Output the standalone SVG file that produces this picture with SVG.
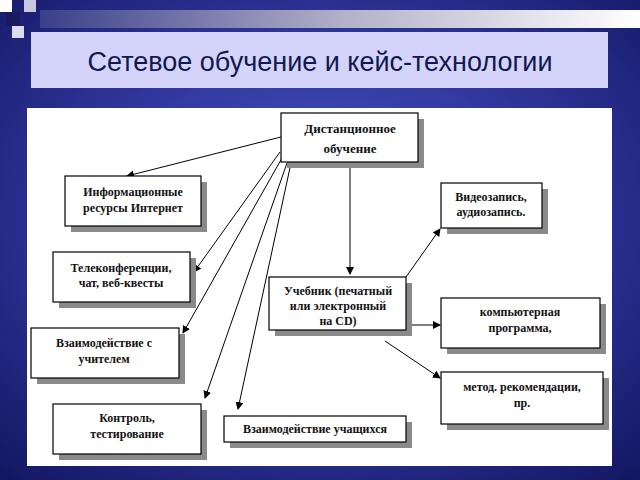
<svg xmlns="http://www.w3.org/2000/svg" width="640" height="480" viewBox="0 0 640 480">
<defs>
<radialGradient id="bg" cx="0.5" cy="0.45" r="0.75"><stop offset="0" stop-color="#4a55c8"/><stop offset="0.6" stop-color="#2a2f90"/><stop offset="1" stop-color="#121660"/></radialGradient>
<linearGradient id="bar" x1="0" x2="1"><stop offset="0" stop-color="#3a3f8a"/><stop offset="0.5" stop-color="#b0b0c8"/><stop offset="1" stop-color="#ffffff"/></linearGradient>
<marker id="ah" markerWidth="8" markerHeight="8" refX="7" refY="4" orient="auto" markerUnits="userSpaceOnUse"><path d="M0,0 L8,4 L0,8 z" fill="#000"/></marker>
</defs>
<style>
.sh{fill:#8a8a8a}
.bx{fill:#fff;stroke:#000;stroke-width:1.2}
.t{font-family:'Liberation Serif','Times New Roman',serif;font-weight:bold;font-size:12px;fill:#111;text-anchor:middle}
.c{stroke:#000;stroke-width:1;fill:none;marker-end:url(#ah)}
</style>
<rect width="640" height="480" fill="url(#bg)"/>
<rect x="40" y="10" width="600" height="18" fill="url(#bar)"/>
<rect x="0" y="0" width="12" height="12" fill="#fff"/><rect x="24" y="0" width="12" height="12" fill="#c8c8e0"/>
<rect x="6" y="12" width="14" height="14" fill="#1a1a60"/><rect x="12" y="26" width="12" height="12" fill="#dcdcf0"/>
<rect x="31" y="32" width="577" height="56" fill="#d4d4fa"/>
<text x="320" y="71" font-family="Liberation Sans,Arial,sans-serif" font-size="27" fill="#111850" text-anchor="middle">Сетевое обучение и кейс-технологии</text>
<rect x="27" y="108" width="585" height="358" fill="#fff"/>
<g id="connectors">
<line class="c" x1="281" y1="137" x2="127" y2="176"/>
<line class="c" x1="280" y1="152" x2="194" y2="272"/>
<line class="c" x1="282" y1="158" x2="183" y2="333"/>
<line class="c" x1="287" y1="163" x2="205" y2="398"/>
<line class="c" x1="291" y1="163" x2="238" y2="409"/>
<line class="c" x1="350" y1="162" x2="350" y2="274"/>
<line class="c" x1="406" y1="277" x2="440" y2="229"/>
<line class="c" x1="406" y1="325" x2="440" y2="325"/>
<line class="c" x1="385" y1="341" x2="440" y2="378"/>
</g>
<g id="n-dist"><rect class="sh" x="287" y="119" width="137" height="49"/><rect class="bx" x="281" y="113" width="137" height="49"/><text class="t" x="350" y="133" style="font-size:13px">Дистанционное</text><text class="t" x="350" y="153" style="font-size:13px">обучение</text></g>
<g id="n-info"><rect class="sh" x="71" y="182" width="136" height="50"/><rect class="bx" x="65" y="176" width="136" height="50"/><text class="t" x="133" y="196">Информационные</text><text class="t" x="133" y="212">ресурсы Интернет</text></g>
<g id="n-tele"><rect class="sh" x="59" y="258" width="137" height="50"/><rect class="bx" x="53" y="252" width="137" height="50"/><text class="t" x="121" y="272">Телеконференции,</text><text class="t" x="121" y="287">чат, веб-квесты</text></g>
<g id="n-vzu"><rect class="sh" x="37" y="334" width="148" height="50"/><rect class="bx" x="31" y="328" width="148" height="50"/><text class="t" x="104" y="347">Взаимодействие с</text><text class="t" x="104" y="363">учителем</text></g>
<g id="n-kontrol"><rect class="sh" x="59" y="410" width="148" height="50"/><rect class="bx" x="53" y="404" width="148" height="50"/><text class="t" x="127" y="422">Контроль,</text><text class="t" x="127" y="438">тестирование</text></g>
<g id="n-vzuch"><rect class="sh" x="230" y="422" width="182" height="26"/><rect class="bx" x="224" y="416" width="182" height="26"/><text class="t" x="315" y="433">Взаимодействие учащихся</text></g>
<g id="n-ucheb"><rect class="sh" x="275" y="283" width="137" height="53"/><rect class="bx" x="269" y="277" width="137" height="53"/><text class="t" x="338" y="295">Учебник (печатный</text><text class="t" x="338" y="310">или электронный</text><text class="t" x="338" y="325">на CD)</text></g>
<g id="n-video"><rect class="sh" x="447" y="189" width="101" height="45"/><rect class="bx" x="441" y="183" width="101" height="45"/><text class="t" x="491" y="201">Видеозапись,</text><text class="t" x="491" y="216">аудиозапись.</text></g>
<g id="n-komp"><rect class="sh" x="447" y="304" width="159" height="50"/><rect class="bx" x="441" y="298" width="159" height="50"/><text class="t" x="520" y="316">компьютерная</text><text class="t" x="520" y="332">программа,</text></g>
<g id="n-metod"><rect class="sh" x="447" y="378" width="162" height="52"/><rect class="bx" x="441" y="372" width="162" height="52"/><text class="t" x="522" y="391">метод. рекомендации,</text><text class="t" x="522" y="407">пр.</text></g>
</svg>
